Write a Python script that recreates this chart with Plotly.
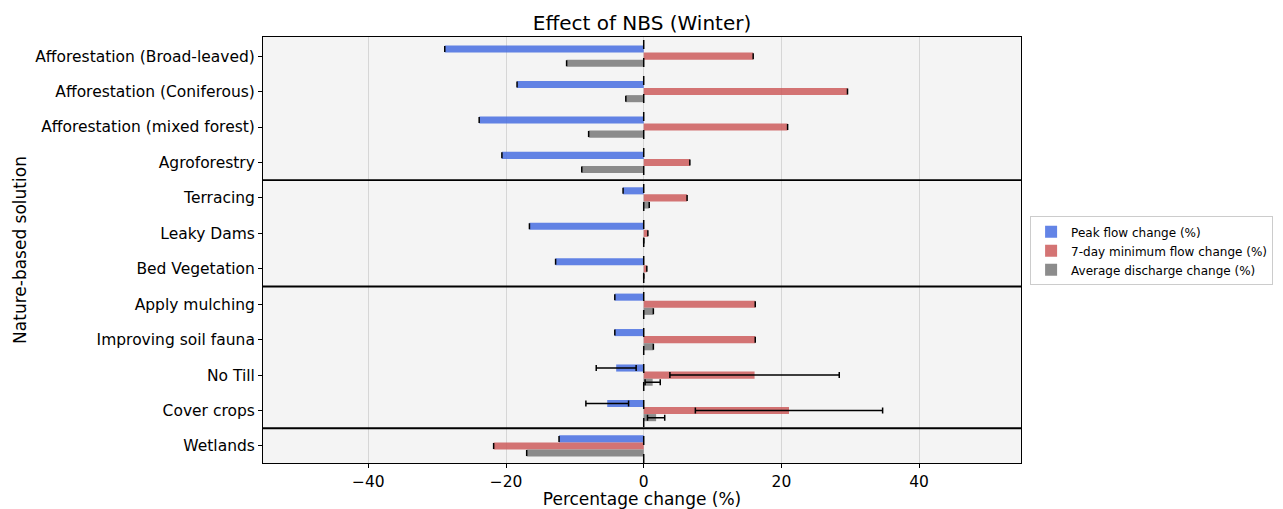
import plotly.graph_objects as go

categories = [
    "Afforestation (Broad-leaved)",
    "Afforestation (Coniferous)",
    "Afforestation (mixed forest)",
    "Agroforestry",
    "Terracing",
    "Leaky Dams",
    "Bed Vegetation",
    "Apply mulching",
    "Improving soil fauna",
    "No Till",
    "Cover crops",
    "Wetlands",
]

peak_flow = [-28.9, -18.4, -23.9, -20.6, -3.0, -16.6, -12.8, -4.2, -4.2, -4.0, -5.3, -12.3]
peak_flow_err = [0, 0, 0, 0, 0, 0, 0, 0, 0, 2.9, 3.1, 0]

min_flow = [15.9, 29.6, 20.9, 6.7, 6.3, 0.6, 0.45, 16.2, 16.2, 16.1, 21.1, -21.8]
min_flow_err = [0, 0, 0, 0, 0, 0, 0, 0, 0, 12.3, 13.6, 0]

avg_discharge = [-11.2, -2.6, -8.0, -9.0, 0.8, 0.0, 0.0, 1.4, 1.4, 1.3, 1.8, -17.0]
avg_discharge_err = [0, 0, 0, 0, 0, 0, 0, 0, 0, 1.1, 1.25, 0]

series = [
    ("Peak flow change (%)", peak_flow, peak_flow_err, "rgba(65,105,225,0.82)", -0.2),
    ("7-day minimum flow change (%)", min_flow, min_flow_err, "rgba(205,92,92,0.85)", 0.0),
    ("Average discharge change (%)", avg_discharge, avg_discharge_err, "rgba(128,128,128,0.9)", 0.2),
]

group_breaks = [3.5, 6.5, 10.5]

fig = go.Figure()
idx = list(range(len(categories)))
for name, vals, errs, color, off in series:
    fig.add_trace(go.Bar(
        name=name,
        x=vals,
        y=[i + off for i in idx],
        orientation="h",
        width=0.2,
        marker=dict(color=color, line=dict(width=0)),
        error_x=dict(type="data", array=errs, visible=True, color="black",
                     thickness=1.5, width=3),
    ))

shapes = [dict(type="line", xref="x", yref="paper", x0=0, x1=0, y0=0, y1=1,
               line=dict(color="black", width=1.5, dash="dash"))]
for b in group_breaks:
    shapes.append(dict(type="line", xref="paper", yref="y", x0=0, x1=1, y0=b, y1=b,
                       line=dict(color="black", width=1.8)))

fig.update_layout(
    width=1283, height=509,
    margin=dict(l=263, r=262, t=37, b=46, autoexpand=False),
    paper_bgcolor="white",
    plot_bgcolor="#f4f4f4",
    barmode="overlay",
    font=dict(family="DejaVu Sans", size=15.5, color="black"),
    title=dict(text="Effect of NBS (Winter)", x=0.5, xref="paper", y=1, yref="paper",
               yanchor="bottom", pad=dict(b=7), font=dict(size=20)),
    shapes=shapes,
    showlegend=True,
    legend=dict(x=1.012, y=0.498, xanchor="left", yanchor="middle",
                bgcolor="white", bordercolor="#cccccc", borderwidth=1,
                font=dict(size=12), itemwidth=30, tracegroupgap=0),
    xaxis=dict(range=[-55.3, 54.8], tickvals=[-40, -20, 0, 20, 40],
               ticktext=["\u221240", "\u221220", "0", "20", "40"],
               showgrid=True, gridcolor="#d6d6d6", gridwidth=1, zeroline=False,
               showline=True, linecolor="black", linewidth=1, mirror=True,
               ticks="outside", ticklen=4, tickcolor="black", automargin=False,
               title=dict(text="Percentage change (%)", font=dict(size=17), standoff=3)),
    yaxis=dict(range=[11.48, -0.54], tickvals=idx, ticktext=categories,
               showgrid=False, zeroline=False,
               showline=True, linecolor="black", linewidth=1, mirror=True,
               ticks="outside", ticklen=4, tickcolor="black", automargin=False,
               title=dict(text="Nature-based solution", font=dict(size=17), standoff=4)),
)

fig.write_html("out.html")
